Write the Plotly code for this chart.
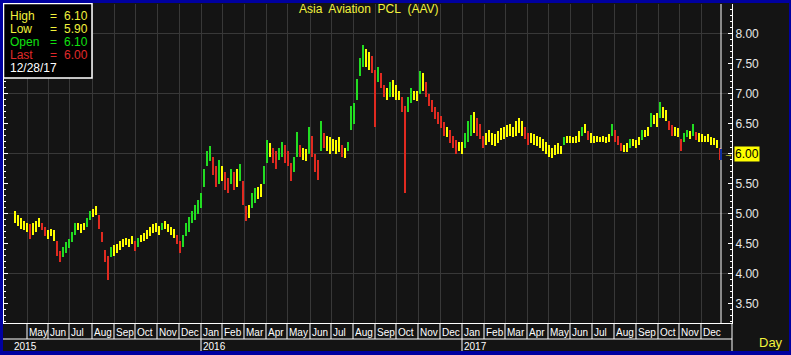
import plotly.graph_objects as go

# ---- price bars (sampled every 3 trading days, mid-Apr 2015 .. 28-Dec-2017) ----
low = [4.85, 4.80, 4.75, 4.72, 4.70, 4.58, 4.65, 4.70, 4.78, 4.72,
       4.62, 4.58, 4.62, 4.55, 4.30, 4.20, 4.28, 4.35, 4.42, 4.52,
       4.65, 4.72, 4.68, 4.72, 4.78, 4.90, 4.95, 4.98, 4.75, 4.52,
       4.20, 3.90, 4.28, 4.30, 4.35, 4.40, 4.45, 4.48, 4.45, 4.50,
       4.38, 4.45, 4.52, 4.55, 4.58, 4.62, 4.68, 4.70, 4.65, 4.72,
       4.75, 4.70, 4.65, 4.60, 4.50, 4.35, 4.45, 4.62, 4.70, 4.85,
       4.90, 5.00, 5.10, 5.45, 5.80, 5.88, 5.65, 5.45, 5.50, 5.55,
       5.40, 5.35, 5.50, 5.40, 5.45, 5.55, 5.15, 4.88, 4.92, 5.10,
       5.18, 5.25, 5.28, 5.50, 5.85, 5.95, 5.85, 5.75, 5.90, 5.95,
       5.85, 5.80, 5.55, 5.70, 5.95, 5.95, 5.90, 5.88, 6.00, 5.95,
       5.70, 5.56, 6.05, 6.10, 6.05, 6.00, 6.05, 6.00, 6.02, 5.95,
       5.92, 6.05, 6.40, 6.50, 6.90, 7.30, 7.45, 7.45, 7.40, 7.35,
       6.45, 7.20, 7.10, 6.95, 6.90, 6.95, 6.95, 6.90, 6.90, 6.70,
       5.34, 6.70, 6.85, 6.90, 6.88, 7.00, 7.05, 6.95, 6.80, 6.70,
       6.58, 6.50, 6.42, 6.30, 6.28, 6.18, 6.10, 6.00, 6.05, 6.00,
       6.10, 6.20, 6.30, 6.35, 6.30, 6.25, 6.10, 6.15, 6.20, 6.15,
       6.12, 6.18, 6.22, 6.25, 6.28, 6.30, 6.28, 6.30, 6.35, 6.30,
       6.25, 6.15, 6.18, 6.15, 6.12, 6.10, 6.05, 6.00, 5.95, 5.92,
       5.98, 6.00, 6.00, 6.15, 6.18, 6.17, 6.18, 6.17, 6.20, 6.30,
       6.35, 6.22, 6.18, 6.17, 6.20, 6.20, 6.20, 6.18, 6.20, 6.30,
       6.20, 6.15, 6.05, 6.02, 6.03, 6.10, 6.12, 6.10, 6.15, 6.22,
       6.28, 6.30, 6.45, 6.50, 6.45, 6.60, 6.60, 6.55, 6.40, 6.30,
       6.30, 6.28, 6.05, 6.20, 6.28, 6.25, 6.30, 6.22, 6.20, 6.20,
       6.19, 6.20, 6.15, 6.14, 6.10, 5.90]
high = [5.05, 4.98, 4.92, 4.88, 4.85, 4.82, 4.85, 4.88, 4.92, 4.85,
        4.78, 4.72, 4.75, 4.72, 4.55, 4.38, 4.45, 4.52, 4.58, 4.70,
        4.85, 4.85, 4.82, 4.85, 4.92, 5.05, 5.08, 5.12, 4.98, 4.70,
        4.40, 4.30, 4.45, 4.48, 4.50, 4.55, 4.58, 4.60, 4.58, 4.62,
        4.55, 4.60, 4.65, 4.68, 4.72, 4.78, 4.82, 4.85, 4.80, 4.85,
        4.87, 4.82, 4.78, 4.75, 4.65, 4.55, 4.65, 4.85, 4.95, 5.05,
        5.15, 5.22, 5.35, 5.75, 6.05, 6.12, 5.95, 5.80, 5.90, 5.80,
        5.70, 5.60, 5.75, 5.70, 5.75, 5.82, 5.55, 5.12, 5.15, 5.35,
        5.42, 5.45, 5.50, 5.80, 6.22, 6.18, 6.10, 6.05, 6.10, 6.20,
        6.15, 6.05, 5.85, 5.95, 6.36, 6.15, 6.10, 6.08, 6.44, 6.30,
        6.00, 5.90, 6.55, 6.35, 6.30, 6.28, 6.25, 6.22, 6.28, 6.15,
        6.10, 6.20, 6.80, 6.85, 7.25, 7.60, 7.81, 7.75, 7.70, 7.62,
        7.40, 7.45, 7.35, 7.15, 7.10, 7.20, 7.22, 7.15, 7.05, 6.95,
        6.80, 6.95, 7.10, 7.05, 7.05, 7.38, 7.35, 7.20, 7.00, 6.90,
        6.78, 6.70, 6.62, 6.52, 6.45, 6.40, 6.30, 6.22, 6.20, 6.20,
        6.35, 6.55, 6.65, 6.70, 6.60, 6.50, 6.30, 6.35, 6.40, 6.35,
        6.32, 6.38, 6.42, 6.45, 6.48, 6.50, 6.45, 6.55, 6.60, 6.55,
        6.45, 6.35, 6.35, 6.32, 6.30, 6.28, 6.25, 6.20, 6.15, 6.10,
        6.15, 6.18, 6.12, 6.28, 6.30, 6.30, 6.28, 6.30, 6.38, 6.45,
        6.50, 6.38, 6.34, 6.30, 6.30, 6.28, 6.30, 6.28, 6.32, 6.50,
        6.40, 6.30, 6.17, 6.15, 6.17, 6.25, 6.25, 6.22, 6.28, 6.39,
        6.40, 6.45, 6.67, 6.65, 6.68, 6.86, 6.78, 6.72, 6.55, 6.48,
        6.45, 6.42, 6.25, 6.35, 6.40, 6.38, 6.50, 6.36, 6.34, 6.32,
        6.30, 6.33, 6.28, 6.26, 6.22, 6.10]
day = [3 * i for i in range(len(low))]

month_names = ["May", "Jun", "Jul", "Aug", "Sep", "Oct", "Nov", "Dec",
               "Jan", "Feb", "Mar", "Apr", "May", "Jun", "Jul", "Aug", "Sep", "Oct", "Nov", "Dec",
               "Jan", "Feb", "Mar", "Apr", "May", "Jun", "Jul", "Aug", "Sep", "Oct", "Nov", "Dec"]
month_start = [12, 33, 54, 77, 99, 120, 142, 164,
               186, 207, 229, 251, 272, 295, 316, 338, 360, 381, 403, 425,
               447, 469, 490, 512, 533, 555, 577, 599, 621, 643, 664, 686]
year_names = ["2015", "2016", "2017"]
year_start = [-11, 186, 447]
price_ticks = [3.5, 4.0, 4.5, 5.0, 5.5, 6.0, 6.5, 7.0, 7.5, 8.0]
grid_levels = [4.0, 5.0, 6.0, 7.0, 8.0]
last_day = 706
last_price = 6.00

info_labels = ["High", "Low", "Open", "Last"]
info_values = ["6.10", "5.90", "6.10", "6.00"]
info_date = "12/28/17"
title_text = "Asia\u00a0 Aviation\u00a0 PCL\u00a0 (AAV)"

# ---- styling ----
W, H = 791, 355
L, R, T, B = 4, 59, 4, 32
PW, PH = W - L - R, H - T - B
X0, X1 = -11, 717
Y0 = last_price - (H - B - 153.5) / 60.0
Y1 = Y0 + PH / 60.0
BG = "#141414"
NAVY = "#0000A0"
YEL = "#FFFF00"
GRN = "#22DD22"
RED = "#E02A20"
TXT_YEL = "#F2F23C"
FONT = "Liberation Sans, Arial, sans-serif"


def px(x):
    return (x - L) / PW


def py(y):
    return (H - B - y) / PH


mids = [(a + b) / 2 for a, b in zip(low, high)]
colors = []
for i, m in enumerate(mids):
    d = m - mids[i - 1] if i else 0.0
    colors.append(GRN if d > 0.06 else (RED if d < -0.06 else YEL))

fig = go.Figure()
fig.add_trace(go.Bar(
    x=day, y=[h - l for l, h in zip(low, high)], base=low,
    width=2.6, marker=dict(color=colors, line=dict(width=0)),
    hoverinfo="skip", showlegend=False,
))

shapes = []
for g in grid_levels:
    shapes.append(dict(type="line", xref="x", yref="y", x0=X0, x1=X1, y0=g, y1=g,
                       line=dict(color="#383838", width=1), layer="below"))
shapes.append(dict(type="line", xref="x", yref="paper", x0=last_day, x1=last_day, y0=0, y1=1,
                   line=dict(color="white", width=1), layer="above"))
band_bot = py(339)
shapes.append(dict(type="line", xref="paper", yref="paper", x0=px(0), x1=1, y0=band_bot, y1=band_bot,
                   line=dict(color="white", width=1)))
for m in month_start:
    shapes.append(dict(type="line", xref="x", yref="paper", x0=m, x1=m, y0=0, y1=band_bot,
                       line=dict(color="white", width=1)))
for ys in year_start[1:]:
    shapes.append(dict(type="line", xref="x", yref="paper", x0=ys, x1=ys, y0=band_bot, y1=py(352),
                       line=dict(color="white", width=1)))
shapes.append(dict(type="line", xref="paper", yref="paper", x0=1, x1=1, y0=0, y1=py(352),
                   line=dict(color="white", width=1)))
shapes.append(dict(type="rect", xref="paper", yref="paper", x0=px(720), x1=px(722),
                   y0=py(160), y1=py(149), fillcolor="#1030A0", line=dict(width=0)))
shapes.append(dict(type="rect", xref="paper", yref="paper", x0=px(3.5), x1=px(92), y0=py(78), y1=py(3.5),
                   fillcolor="black", line=dict(color="white", width=1.5), layer="above"))
for (a, b, c, d) in [(0, 3, 0, H), (789, W, 0, H), (0, W, 0, 3), (0, W, 351, H)]:
    shapes.append(dict(type="rect", xref="paper", yref="paper", x0=px(a), x1=px(b),
                       y0=py(d), y1=py(c), fillcolor=NAVY, line=dict(width=0), layer="above"))

ann = []
ann.append(dict(text=title_text, xref="paper", yref="paper", x=px(297), y=py(8.5),
                xanchor="left", yanchor="middle", showarrow=False,
                font=dict(family=FONT, size=12, color=TXT_YEL)))
info_colors = [TXT_YEL, TXT_YEL, "#10E010", "#E02A2A"]
for k, (lab, val, col) in enumerate(zip(info_labels, info_values, info_colors)):
    yc = py(15.5 + 13.2 * k)
    ann.append(dict(text=lab, xref="paper", yref="paper", x=px(8), y=yc, xanchor="left", yanchor="middle",
                    showarrow=False, font=dict(family=FONT, size=12, color=col)))
    ann.append(dict(text="=", xref="paper", yref="paper", x=px(47.5), y=yc, xanchor="left", yanchor="middle",
                    showarrow=False, font=dict(family=FONT, size=12, color=col)))
    ann.append(dict(text=val, xref="paper", yref="paper", x=px(62), y=yc, xanchor="left", yanchor="middle",
                    showarrow=False, font=dict(family=FONT, size=12, color=col)))
ann.append(dict(text=info_date, xref="paper", yref="paper", x=px(8), y=py(68), xanchor="left", yanchor="middle",
                showarrow=False, font=dict(family=FONT, size=12, color="white")))
for name, m in zip(month_names, month_start):
    ann.append(dict(text=name, xref="x", yref="paper", x=m, y=py(332), xanchor="left", yanchor="middle",
                    xshift=0, showarrow=False, font=dict(family=FONT, size=10, color="white")))
for name, ys in zip(year_names, year_start):
    ann.append(dict(text=name, xref="x", yref="paper", x=ys, y=py(346.5), xanchor="left", yanchor="middle",
                    xshift=(8 if ys == year_start[0] else 0), showarrow=False,
                    font=dict(family=FONT, size=10, color="white")))
ann.append(dict(text="Day", xref="paper", yref="paper", x=px(757), y=py(343), xanchor="left", yanchor="middle",
                showarrow=False, font=dict(family=FONT, size=13, color=TXT_YEL)))
ann.append(dict(text="6.00", xref="paper", yref="y", x=px(734), y=last_price, xanchor="left", yanchor="middle",
                showarrow=False, bgcolor="#FFFF00", borderpad=0,
                font=dict(family=FONT, size=12, color="black")))
ann.append(dict(text="\u2192", xref="paper", yref="y", x=px(722), y=last_price, xanchor="left", yanchor="middle",
                showarrow=False, font=dict(family=FONT, size=9, color=TXT_YEL)))

fig.update_layout(
    width=W, height=H, autosize=False,
    margin=dict(l=L, r=R, t=T, b=B, pad=0),
    paper_bgcolor=BG, plot_bgcolor=BG,
    bargap=0, barmode="overlay",
    shapes=shapes, annotations=ann,
    xaxis=dict(range=[X0, X1], tickvals=month_start, showticklabels=False, ticks="",
               showgrid=True, gridcolor="#383838", gridwidth=1, zeroline=False,
               showline=True, linecolor="white", linewidth=1, fixedrange=True),
    yaxis=dict(range=[Y0, Y1], side="right", tickvals=price_ticks,
               ticktext=["%.2f" % v for v in price_ticks],
               ticks="inside", ticklen=4, tickcolor="white", tickwidth=1,
               minor=dict(dtick=0.1, tick0=0, ticks="inside", ticklen=2, tickcolor="white"),
               showline=True, linecolor="white", linewidth=1, mirror="allticks",
               showgrid=False, zeroline=False,
               tickfont=dict(family=FONT, size=12, color="#E8E8E8"), fixedrange=True),
    showlegend=False,
)

fig.write_html("out.html", config={"displayModeBar": False, "staticPlot": True},
               post_script="document.body.style.margin='0';document.body.style.overflow='hidden';")
